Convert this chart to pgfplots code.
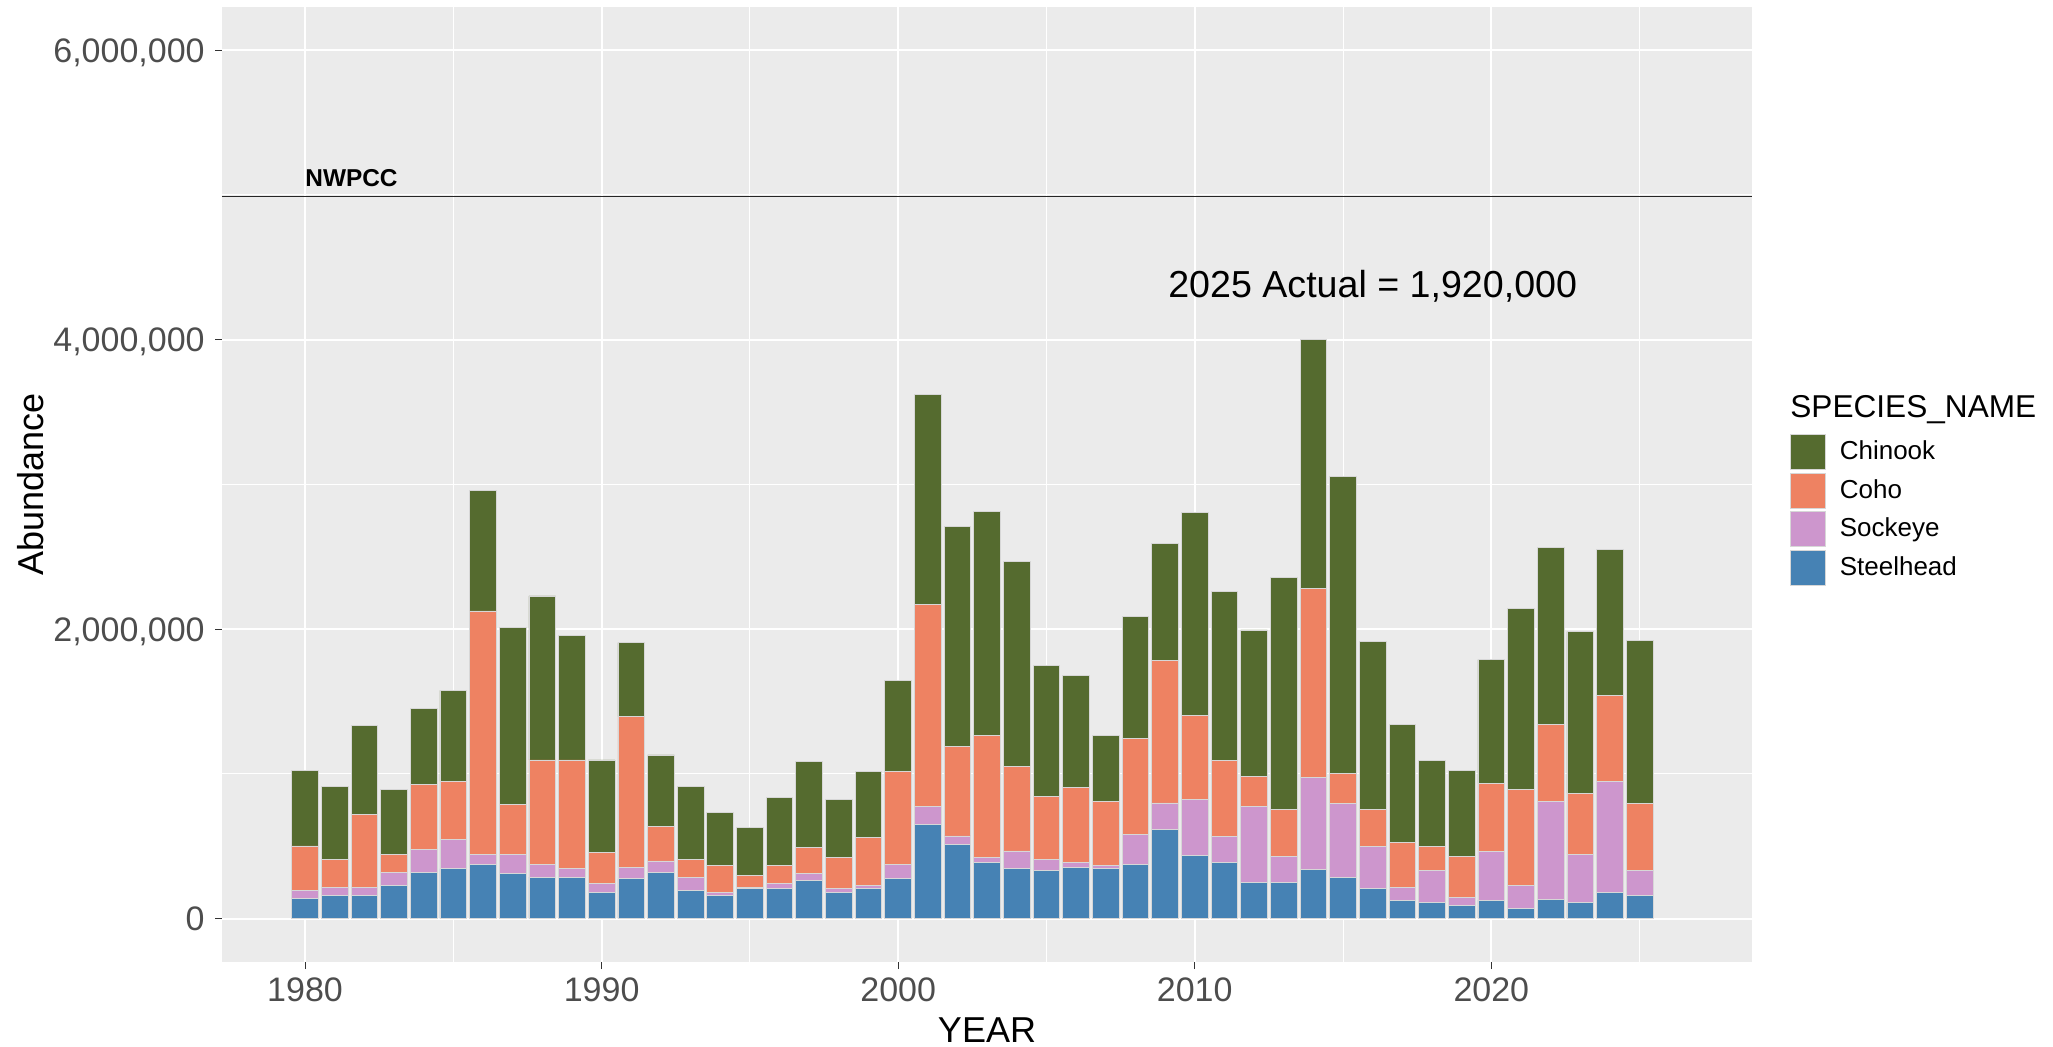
\documentclass[border=0pt]{standalone}
\usepackage{pgfplots}
\usepackage{pgfplotstable}
\pgfplotsset{compat=1.18}
\usepackage{fontspec}
\setmainfont{Liberation Sans}
\definecolor{chin}{RGB}{85,107,47}
\definecolor{coho}{RGB}{238,130,98}
\definecolor{sock}{RGB}{205,150,205}
\definecolor{steel}{RGB}{70,130,180}
\definecolor{panelbg}{RGB}{235,235,235}
\definecolor{ticklab}{RGB}{77,77,77}
\definecolor{barline}{RGB}{215,215,215}

\pgfplotstableread{
year st so co ch
1980 139000 54000 309000 524000
1981 158000 60000 193000 502000
1982 158000 60000 502000 616000
1983 228000 91000 126000 445000
1984 319000 161000 445000 527000
1985 344000 203000 400000 629000
1986 376000 69000 1680000 833000
1987 309000 136000 344000 1222000
1988 287000 89000 720000 1133000
1989 287000 57000 752000 858000
1990 183000 57000 218000 638000
1991 275000 79000 1041000 512000
1992 319000 79000 240000 492000
1993 193000 94000 124000 502000
1994 158000 25000 183000 364000
1995 205000 13000 79000 331000
1996 205000 35000 126000 468000
1997 262000 47000 183000 594000
1998 183000 22000 218000 398000
1999 205000 23000 333000 456000
2000 275000 101000 641000 628000
2001 650000 127000 1392000 1452000
2002 514000 57000 616000 1521000
2003 388000 35000 843000 1546000
2004 344000 123000 584000 1415000
2005 331000 80000 435000 900000
2006 354000 34000 515000 776000
2007 344000 22000 445000 455000
2008 376000 208000 660000 846000
2009 616000 183000 982000 811000
2010 434000 386000 582000 1405000
2011 386000 181000 525000 1165000
2012 251000 522000 206000 1015000
2013 251000 181000 321000 1605000
2014 341000 635000 1303000 1721000
2015 285000 510000 206000 2054000
2016 206000 293000 254000 1162000
2017 127000 87000 311000 818000
2018 113000 217000 169000 593000
2019 90000 57000 285000 592000
2020 127000 338000 469000 854000
2021 68000 158000 663000 1252000
2022 135000 672000 536000 1221000
2023 113000 330000 423000 1117000
2024 183000 762000 595000 1013000
2025 158000 172000 465000 1125000
}\fishdata

\pgfplotsset{
  sqlegend/.style={legend image code/.code={%
    \draw[##1, draw=barline, line width=0.4bp] (0bp,-8.75bp) rectangle (17.5bp,8.75bp);}},
}

\begin{document}
\begin{tikzpicture}
\useasboundingbox (-111bp,-42.5bp) rectangle (915.5bp,481bp);
\begin{axis}[
  at={(0,0)}, anchor=south west,
  scale only axis, width=765bp, height=477.7bp,
  xmin=1977.2, xmax=2028.79, ymin=-300000, ymax=6300000,
  ybar stacked, bar width=0.9,
  axis background/.style={fill=panelbg},
  axis line style={draw=none},
  xtick={1980,1990,2000,2010,2020},
  xticklabels={1980,1990,2000,2010,2020},
  ytick={0,2000000,4000000,6000000},
  yticklabels={0,{2,000,000},{4,000,000},{6,000,000}},
  minor xtick={1985,1995,2005,2015,2025},
  minor ytick={1000000,3000000,5000000},
  grid=both,
  major grid style={white, line width=1bp},
  minor grid style={white, line width=0.5bp},
  tick align=outside, xtick pos=left, ytick pos=left,
  major tick length=3.5bp, minor tick length=0pt,
  tick style={color=black!80, line width=0.5bp},
  scaled y ticks=false,
  ticklabel style={font=\fontsize{17bp}{20bp}\selectfont, text=ticklab, inner sep=0pt},
  xticklabel style={anchor=base, yshift=-16bp},
  yticklabel style={anchor=base east, xshift=-5bp, yshift=-6.1bp},
  reverse legend,
  legend cell align=left,
  legend style={at={(1.02484,0.5525)}, anchor=north west, draw=none, fill=none,
    inner sep=0pt, outer sep=0pt, row sep=1.35bp, column sep=7bp,
    font=\fontsize{13bp}{15bp}\selectfont, nodes={inner sep=0pt}},
]
\addplot[fill=steel, draw=barline, line width=0.4bp, sqlegend] table[x=year, y=st] {\fishdata};
\addlegendentry{Steelhead}
\addplot[fill=sock, draw=barline, line width=0.4bp, sqlegend] table[x=year, y=so] {\fishdata};
\addlegendentry{Sockeye}
\addplot[fill=coho, draw=barline, line width=0.4bp, sqlegend] table[x=year, y=co] {\fishdata};
\addlegendentry{Coho}
\addplot[fill=chin, draw=barline, line width=0.4bp, sqlegend] table[x=year, y=ch] {\fishdata};
\addlegendentry{Chinook}

\draw[black!85, line width=0.7bp] (axis cs:1977.2,4990000) -- (axis cs:2028.79,4990000);
\node[anchor=base west, inner sep=0pt, yshift=5bp, font=\fontsize{12.2bp}{14bp}\selectfont\bfseries] at (axis cs:1980,4990000) {NWPCC};
\node[anchor=base, inner sep=0pt, font=\fontsize{18.8bp}{22bp}\selectfont] at (axis cs:2016,4290000) {2025 Actual = 1,920,000};
\end{axis}
\node[anchor=base, inner sep=0pt, font=\fontsize{18bp}{21bp}\selectfont] at (382.5bp,-40bp) {YEAR};
\node[rotate=90, anchor=base, inner sep=0pt, font=\fontsize{18bp}{21bp}\selectfont] at (-89.4bp,238.85bp) {Abundance};
\node[anchor=base west, inner sep=0pt, font=\fontsize{15.8bp}{18bp}\selectfont] at (784bp,272.2bp) {SPECIES\_NAME};
\end{tikzpicture}
\end{document}
